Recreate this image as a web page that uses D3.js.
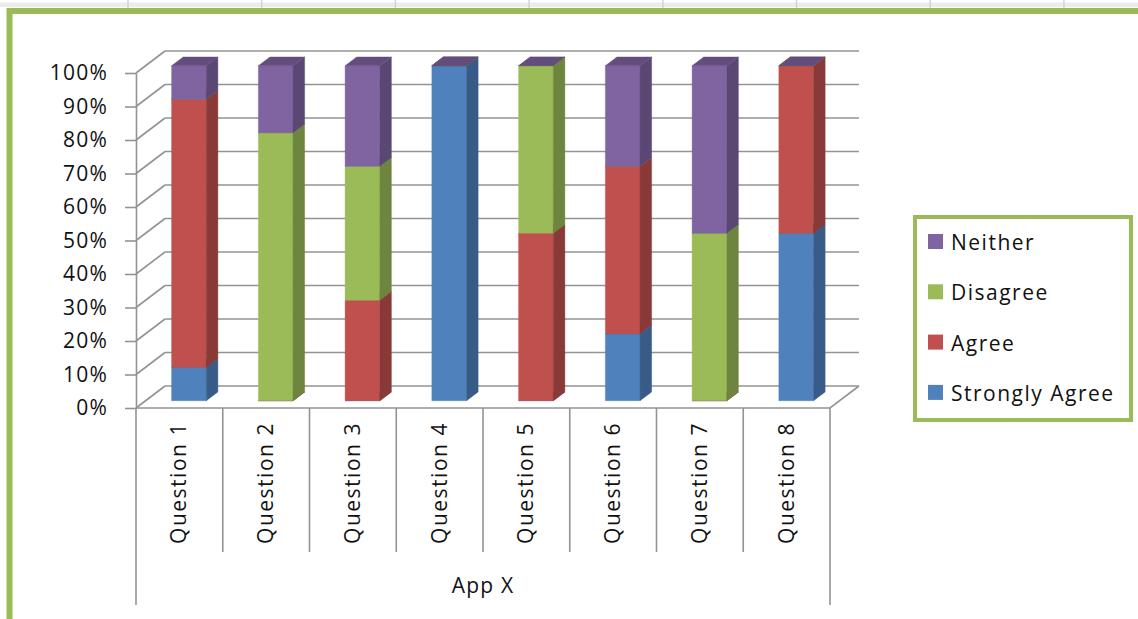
<!DOCTYPE html>
<html>
<head>
<meta charset="utf-8">
<script src="https://cdn.jsdelivr.net/npm/d3@7"></script>
<style>
  html, body { margin: 0; padding: 0; background: #fff; }
  svg { display: block; }
  text { font-family: "Open Sans", sans-serif; fill: #111; }
</style>
</head>
<body>
<svg id="chart" width="1138" height="619"></svg>
<script>
// Survey answers per question, in percent
const questions = ["Question 1", "Question 2", "Question 3", "Question 4",
                   "Question 5", "Question 6", "Question 7", "Question 8"];
const seriesNames = ["Strongly Agree", "Agree", "Disagree", "Neither"];
const stronglyAgree = [10, 0, 0, 100, 0, 20, 0, 50];
const agree         = [80, 0, 30, 0, 50, 50, 0, 50];
const disagree      = [0, 80, 40, 0, 50, 0, 50, 0];
const neither       = [10, 20, 30, 0, 0, 30, 50, 0];
const yTickValues   = [0, 10, 20, 30, 40, 50, 60, 70, 80, 90, 100];
const groupLabel    = "App X";

const seriesColors = ["#4F81BD", "#C0504D", "#9BBB59", "#8064A2"];

const rows = questions.map((q, i) => ({
  q,
  "Strongly Agree": stronglyAgree[i],
  "Agree": agree[i],
  "Disagree": disagree[i],
  "Neither": neither[i]
}));
const stacked = d3.stack().keys(seriesNames)(rows);

const svg = d3.select("#chart");

// spreadsheet strip above the chart object
const strip = svg.append("g");
strip.append("rect").attr("x", 0).attr("y", 2.5).attr("width", 1138).attr("height", 4.5).attr("fill", "#ececec");
d3.range(8).forEach(i => {
  strip.append("line").attr("x1", 128 + i * 133.7).attr("x2", 128 + i * 133.7)
    .attr("y1", 0).attr("y2", 8).attr("stroke", "#d4d4d4").attr("stroke-width", 1.5);
});

// chart frame
svg.append("rect").attr("x", 9.5).attr("y", 11).attr("width", 1160).attr("height", 640)
  .attr("fill", "#fff").attr("stroke", "#9BBB59").attr("stroke-width", 6);

// pseudo-3D projection: depth offset of the back wall
const DX = 29, DY = 22;
const x0 = 136, x1 = 830;
const yF = d3.scaleLinear().domain([0, 100]).range([408, 73]);
const xCat = d3.scaleBand().domain(questions).range([x0, x1]);
const xBar = d3.scaleBand().domain(questions).range([x0, x1]).paddingInner(0.6).paddingOuter(0.3);
const P = (x, v, z) => [x + z * DX, yF(v) - z * DY];
const line = d3.line();

const gridColor = "#939393";
const grid = svg.append("g").attr("fill", "none").attr("stroke", gridColor).attr("stroke-width", 1.6);

// back wall gridlines and side wall diagonals
yTickValues.forEach(v => {
  grid.append("path").attr("d", line([P(x0, v, 1), P(x1, v, 1)]));
  grid.append("path").attr("d", line([P(x0, v, 0), P(x0, v, 1)]));
});
// floor front edge and right diagonal
grid.append("path").attr("d", line([P(x0, 0, 0), P(x1, 0, 0), P(x1, 0, 1)]));

// y axis (front left edge)
const yAxis = d3.axisLeft(yF)
  .tickValues(yTickValues)
  .tickFormat(d => d + "%")
  .tickSize(11)
  .tickSizeOuter(0)
  .tickPadding(17);
const yg = svg.append("g").attr("transform", `translate(${x0},0)`).call(yAxis);
yg.select(".domain").attr("stroke", gridColor).attr("stroke-width", 1.6);
yg.selectAll(".tick line").attr("stroke", gridColor).attr("stroke-width", 1.6);
yg.selectAll(".tick text")
  .style("font-family", "'Open Sans', sans-serif")
  .style("font-size", "21px")
  .style("letter-spacing", "1.2px")
  .attr("fill", "#111");

// stacked bars: front, side and top faces of each segment, bottom to top
const z0 = 0.33, z1 = 0.73;
const bw = xBar.bandwidth();
const bars = svg.append("g");
questions.forEach((q, qi) => {
  const g = bars.append("g");
  const xl = xBar(q), xr = xl + bw;
  stacked.forEach((layer, si) => {
    const [v0, v1] = layer[qi];
    const base = d3.color(seriesColors[si]);
    const sideC = base.darker(0.95).formatHex();
    const topC = base.darker(0.75).formatHex();
    const face = (pts, c) => g.append("path").attr("d", line(pts) + "Z")
      .attr("fill", c).attr("stroke", c).attr("stroke-width", 0.4);
    if (v1 > v0) {
      face([P(xl, v0, z0), P(xr, v0, z0), P(xr, v1, z0), P(xl, v1, z0)], base.formatHex());
      face([P(xr, v0, z0), P(xr, v0, z1), P(xr, v1, z1), P(xr, v1, z0)], sideC);
    }
    face([P(xl, v1, z0), P(xr, v1, z0), P(xr, v1, z1), P(xl, v1, z1)], topC);
  });
});

// category axis: separators, rotated labels, group label
const cat = svg.append("g");
const bounds = questions.map(q => xCat(q)).concat([x1]);
bounds.forEach((bx, i) => {
  const outer = i === 0 || i === bounds.length - 1;
  cat.append("line").attr("x1", bx).attr("x2", bx)
    .attr("y1", yF(0)).attr("y2", outer ? 605 : 552)
    .attr("stroke", gridColor).attr("stroke-width", 1.6);
});
questions.forEach(q => {
  const cx = xCat(q) + xCat.bandwidth() / 2;
  cat.append("text")
    .attr("transform", `translate(${cx + 7},483) rotate(-90)`)
    .attr("text-anchor", "middle")
    .style("font-size", "21px")
    .style("letter-spacing", "1.5px")
    .text(q);
});
cat.append("text").attr("x", (x0 + x1) / 2).attr("y", 593)
  .attr("text-anchor", "middle")
  .style("font-size", "21px")
  .style("letter-spacing", "1.2px")
  .text(groupLabel);

// legend
const lg = svg.append("g");
lg.append("rect").attr("x", 915).attr("y", 217).attr("width", 216).attr("height", 203)
  .attr("fill", "#fff").attr("stroke", "#9BBB59").attr("stroke-width", 4);
const legendOrder = seriesNames.slice().reverse();
legendOrder.forEach((name, i) => {
  const si = seriesNames.indexOf(name);
  const cy = 242 + i * 50.3;
  lg.append("rect").attr("x", 928).attr("y", cy - 8).attr("width", 15).attr("height", 15)
    .attr("fill", seriesColors[si]);
  lg.append("text").attr("x", 951).attr("y", cy + 8)
    .style("font-size", "21px")
    .style("letter-spacing", "1.5px")
    .text(name);
});
</script>
</body>
</html>
